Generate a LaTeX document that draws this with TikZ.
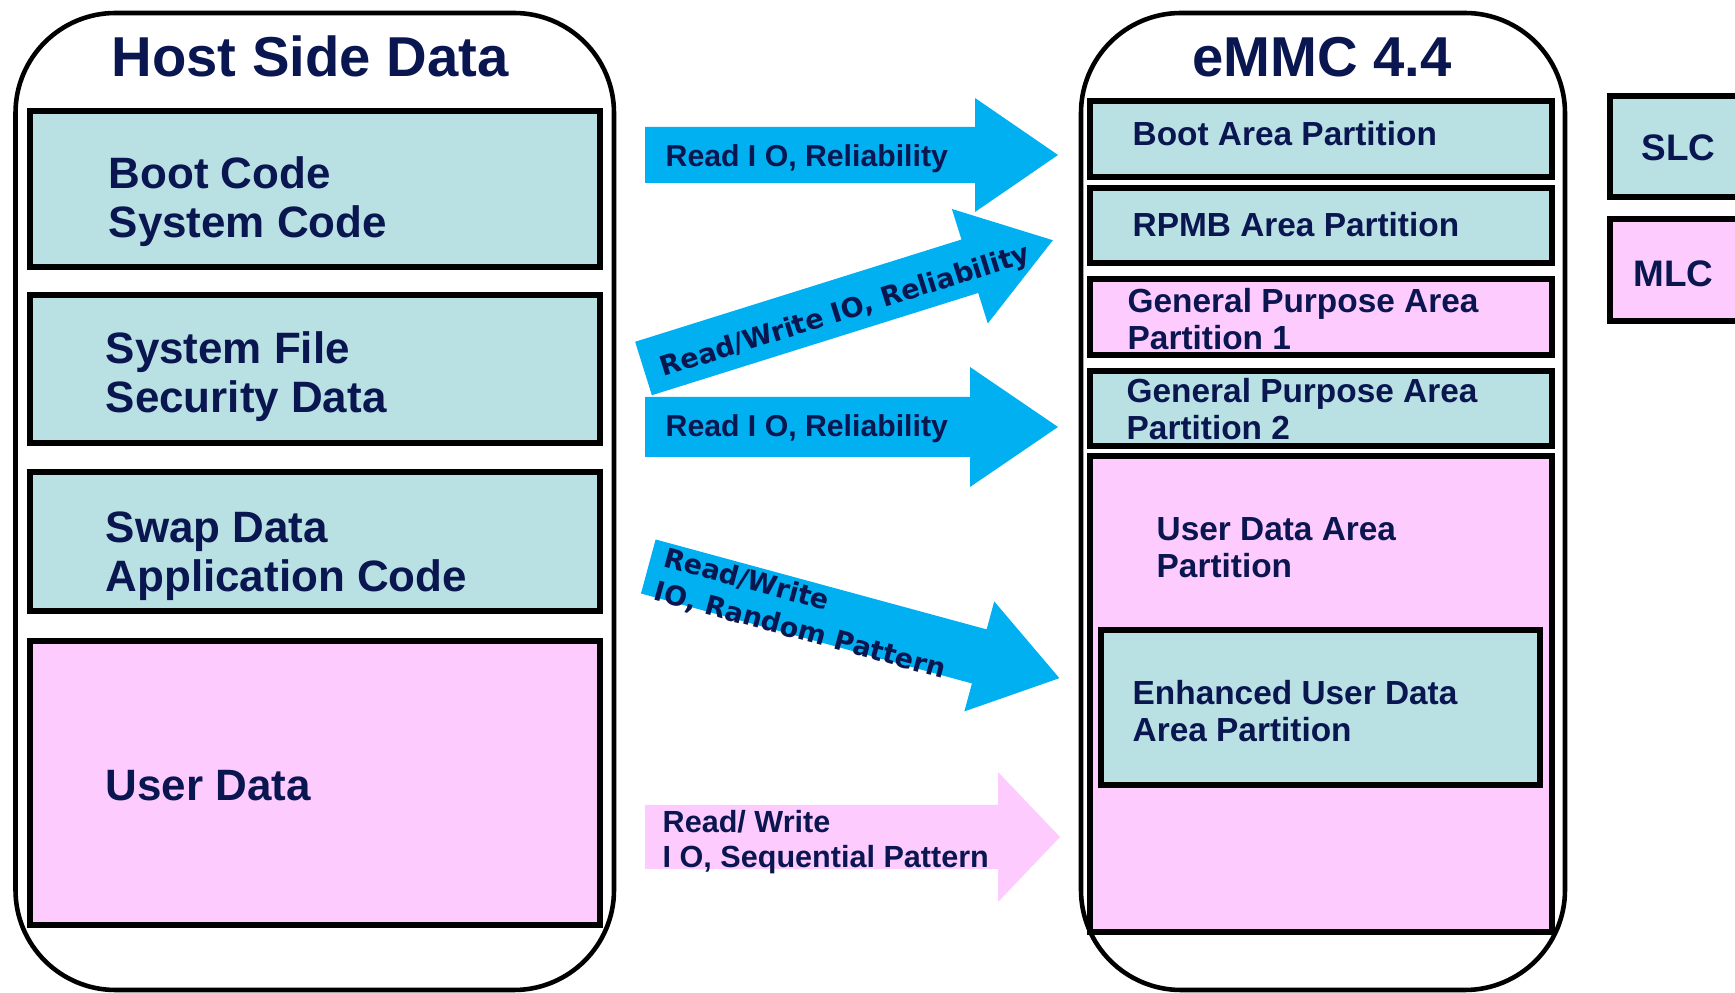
\documentclass[tikz,border=0pt]{standalone}
\usepackage{fontspec}
\setmainfont{Liberation Sans}
\newfontfamily\slantfont{DejaVu Sans}

\definecolor{textnavy}{RGB}{10,22,80}
\definecolor{slcteal}{RGB}{185,224,227}
\definecolor{mlcpink}{RGB}{253,203,253}
\definecolor{arrowblue}{RGB}{0,176,240}

\tikzset{
  outerframe/.style={draw=black, line width=1.3pt, rounded corners=1cm},
  slcbox/.style={draw=black, line width=1.5pt, fill=slcteal},
  mlcbox/.style={draw=black, line width=1.5pt, fill=mlcpink},
  labeltext/.style={anchor=base west, inner sep=0pt, text=textnavy, align=left},
  headtext/.style={labeltext, anchor=base, font=\bfseries\fontsize{16}{19}\selectfont},
  hosttext/.style={labeltext, font=\bfseries\fontsize{12.5}{14.2}\selectfont},
  parttext/.style={labeltext, font=\bfseries\fontsize{9.5}{10.8}\selectfont},
  celltext/.style={labeltext, font=\bfseries\fontsize{10.5}{12}\selectfont},
  flowtext/.style={labeltext, font=\bfseries\fontsize{8.6}{10}\selectfont},
  slanttext/.style={labeltext, font=\slantfont\bfseries\fontsize{7.7}{10}\selectfont}
}

\begin{document}
\begin{tikzpicture}[x=0.1mm, y=-0.1mm]
  \useasboundingbox (0,0) rectangle (1735,993);
  \clip (0,0) rectangle (1735,993);

  % host side
  \draw [outerframe] (15.5,13) rectangle (614,990);
  \node [headtext] (hosttitle) at (310,77) {Host Side Data};
  \draw [slcbox] (30,111) rectangle (600,267);
  \node [hosttext] (bootcode) at (108,238) {Boot Code\\System Code};
  \draw [slcbox] (30,295) rectangle (600,443);
  \node [hosttext] (sysfile) at (105,413) {System File\\Security Data};
  \draw [slcbox] (30,472) rectangle (600,611);
  \node [hosttext] (swapdata) at (105,592) {Swap Data\\Application Code};
  \draw [mlcbox] (30,641) rectangle (600,925);
  \node [hosttext] (userdata) at (105,801) {User Data};

  % eMMC side
  \draw [outerframe] (1081,13) rectangle (1565,990);
  \node [headtext] (emmctitle) at (1322,77) {eMMC 4.4};
  \draw [slcbox] (1090,101) rectangle (1552,177);
  \node [parttext] (bootpart) at (1132,146) {Boot Area Partition};
  \draw [slcbox] (1090,188) rectangle (1552,263);
  \node [parttext] (rpmbpart) at (1132,237) {RPMB Area Partition};
  \draw [mlcbox] (1090,279) rectangle (1552,355);
  \node [parttext] (gppart1) at (1127,350) {General Purpose Area\\Partition 1};
  \draw [slcbox] (1090,371) rectangle (1552,446);
  \node [parttext] (gppart2) at (1126,440) {General Purpose Area\\Partition 2};
  \draw [mlcbox] (1090,456) rectangle (1552,932);
  \node [parttext] (userpart) at (1156,578) {User Data Area\\Partition};
  \draw [slcbox] (1101,630) rectangle (1540,785);
  \node [parttext] (enhpart) at (1132,742) {Enhanced User Data\\Area Partition};

  % cell types
  \draw [slcbox] (1610,96) rectangle (1760,197);
  \node [celltext] (slc) at (1641,161) {SLC};
  \draw [mlcbox] (1610,219) rectangle (1760,321);
  \node [celltext] (mlc) at (1633,287) {MLC};

  % arrows
  \fill [arrowblue] (645,127) -- (975,127) -- (975,98) -- (1058,155) -- (975,212) -- (975,183) -- (645,183) -- cycle;
  \node [flowtext] (readrel1) at (665,167) {Read I O, Reliability};

  \begin{scope}[shift={(643.5,368.5)}, rotate=17.4]
    \fill [arrowblue] (0,-28) -- (342,-28) -- (342,-60) -- (429,0) -- (342,60) -- (342,28) -- (0,28) -- cycle;
    \node [slanttext, rotate=17.4] (rwrel) at (16,14) {Read/Write IO, Reliability};
  \end{scope}

  \fill [arrowblue] (645,397) -- (970,397) -- (970,367) -- (1058,427) -- (970,487) -- (970,457) -- (645,457) -- cycle;
  \node [flowtext] (readrel2) at (665,437) {Read I O, Reliability};

  \begin{scope}[shift={(648.3,566.5)}, rotate=-15.2]
    \fill [arrowblue] (0,-28) -- (343,-28) -- (343,-57) -- (426,0) -- (343,57) -- (343,28) -- (0,28) -- cycle;
    \node [slanttext, rotate=-15.2] (rwrand) at (12.6,31.1) {Read/Write\\IO, Random Pattern};
  \end{scope}

  \fill [mlcpink] (645,805) -- (998,805) -- (998,772) -- (1060,837) -- (998,902) -- (998,869) -- (645,869) -- cycle;
  \node [flowtext, font=\bfseries\fontsize{8.7}{10}\selectfont] (rwseq) at (662,868) {Read/ Write\\I O, Sequential Pattern};
\end{tikzpicture}
\end{document}
